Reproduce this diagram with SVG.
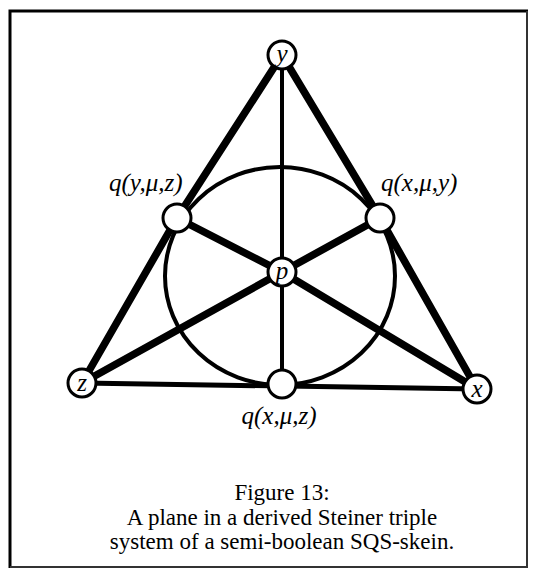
<svg xmlns="http://www.w3.org/2000/svg" width="542" height="573" viewBox="0 0 542 573">
<style>
  .thick { stroke: #000; stroke-width: 7.5; stroke-linecap: round; fill: none; }
  .mid { stroke: #000; stroke-width: 5; fill: none; }
  .thin { stroke: #000; stroke-width: 4; fill: none; }
  .node circle { fill: #fff; stroke: #000; stroke-width: 3; }
  .lbl { font-family: "Liberation Serif", "Times New Roman", serif; font-style: italic; fill: #000; }
  .cap { font-family: "Liberation Serif", "Times New Roman", serif; font-size: 23px; fill: #000; text-anchor: middle; }
</style>
<rect x="0" y="0" width="542" height="573" fill="#fff"/>
<path d="M10,568 L10,11 L528,11" fill="none" stroke="#000" stroke-width="3"/>
<path d="M527,11 L527,567 L10,567" fill="none" stroke="#333" stroke-width="2"/>
<g id="connectors">
  <ellipse class="thin" cx="280" cy="276" rx="115" ry="109"/>
  <line class="thin" x1="282" y1="55" x2="282" y2="384"/>
  <line class="mid" x1="82" y1="383" x2="477" y2="389"/>
  <polyline class="thick" points="282,55 177,218 82,383"/>
  <polyline class="thick" points="282,55 380,218 477,389"/>
  <polyline class="thick" points="82,383 282,272 380,218"/>
  <polyline class="thick" points="477,389 282,272 177,218"/>
</g>
<g id="node-y" class="node"><circle cx="282" cy="55" r="14"/><text class="lbl" x="282" y="62" font-size="25" text-anchor="middle">y</text></g>
<g id="node-p" class="node"><circle cx="282" cy="272" r="14"/><text class="lbl" x="282" y="279" font-size="25" text-anchor="middle">p</text></g>
<g id="node-z" class="node"><circle cx="82" cy="383" r="14"/><text class="lbl" x="82" y="391" font-size="25" text-anchor="middle">z</text></g>
<g id="node-x" class="node"><circle cx="477" cy="389" r="14"/><text class="lbl" x="477" y="397" font-size="25" text-anchor="middle">x</text></g>
<g id="node-qyuz" class="node"><circle cx="177" cy="218" r="14"/><text class="lbl" x="109" y="191" font-size="25">q(y,μ,z)</text></g>
<g id="node-qxuy" class="node"><circle cx="380" cy="218" r="14"/><text class="lbl" x="381" y="191" font-size="25">q(x,μ,y)</text></g>
<g id="node-qxuz" class="node"><circle cx="282" cy="384" r="14"/><text class="lbl" x="279" y="424" font-size="25" text-anchor="middle">q(x,μ,z)</text></g>
<g id="caption">
  <text class="cap" x="282" y="500">Figure 13:</text>
  <text class="cap" x="282" y="525">A plane in a derived Steiner triple</text>
  <text class="cap" x="282" y="549">system of a semi-boolean SQS-skein.</text>
</g>
</svg>
